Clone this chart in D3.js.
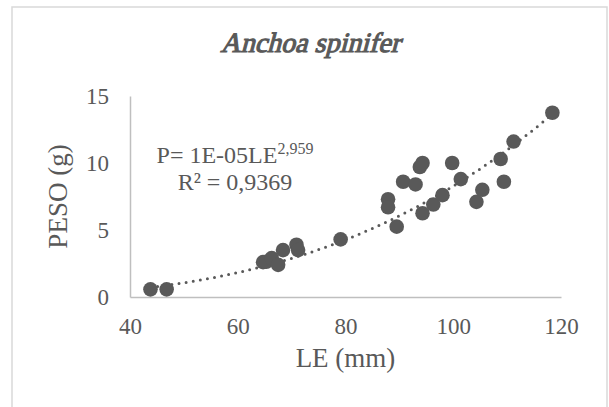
<!DOCTYPE html>
<html><head><meta charset="utf-8">
<script src="https://cdn.jsdelivr.net/npm/d3@7"></script>
<style>body{margin:0;background:#fff}svg{display:block}</style>
</head><body>
<script>
const title = "Anchoa spinifer";
const xTitle = "LE (mm)";
const yTitle = "PESO (g)";
const xTicks = [40, 60, 80, 100, 120];
const yTicks = [0, 5, 10, 15];
const LE = [43.8,46.8,64.7,65.3,66.3,67.5,68.4,70.9,71.2,79.1,87.9,87.9,89.5,90.7,93.0,93.8,94.3,94.3,96.3,98.0,99.8,101.4,104.3,105.4,108.8,109.4,111.2,118.4];
const PESO = [0.57,0.57,2.6,2.63,2.9,2.4,3.5,3.9,3.5,4.3,7.3,6.7,5.25,8.6,8.4,9.7,10.0,6.25,6.9,7.6,10.0,8.8,7.1,8.0,10.3,8.6,11.6,13.75];
const trendA = 1e-5, trendB = 2.959;

const W = 609, H = 407;
const col = "#595959";
const serif = "'Liberation Serif', 'Times New Roman', serif";
const svg = d3.select("body").append("svg").attr("width", W).attr("height", H);
svg.append("rect").attr("x", 12).attr("y", 7).attr("width", 595).attr("height", 410)
  .attr("fill", "#fff").attr("stroke", "#d9d9d9").attr("stroke-width", 1.5);

const x = d3.scaleLinear().domain([40, 120]).range([130, 561]);
const y = d3.scaleLinear().domain([0, 15]).range([297, 96]);

// axes
const xa = svg.append("g").attr("transform", `translate(0,${y(0)})`)
  .call(d3.axisBottom(x).tickValues(xTicks).tickSize(0).tickPadding(20));
const ya = svg.append("g").attr("transform", `translate(${x(40)},0)`)
  .call(d3.axisLeft(y).tickValues(yTicks).tickSize(0).tickPadding(21));
[xa, ya].forEach(g => {
  g.select(".domain").attr("stroke", "#bfbfbf").attr("stroke-width", 1.5);
  g.selectAll("text").attr("font-family", serif)
    .attr("font-size", 23).attr("fill", col);
});
xa.selectAll("text").attr("dy", null).attr("y", 37);

// trendline
const xs = d3.range(d3.min(LE), d3.max(LE) + 0.01, 0.5);
svg.append("path")
  .attr("d", d3.line().x(d => x(d)).y(d => y(trendA * Math.pow(d, trendB)))(xs))
  .attr("fill", "none").attr("stroke", col).attr("stroke-width", 3)
  .attr("stroke-linecap", "round").attr("stroke-dasharray", "0,7.2");

// points
svg.append("g").selectAll("circle").data(LE.map((v, i) => [v, PESO[i]])).join("circle")
  .attr("cx", d => x(d[0])).attr("cy", d => y(d[1])).attr("r", 7.3).attr("fill", col);

// title (serif, slanted)
svg.append("text").attr("transform", "translate(310,52) skewX(-15)").attr("text-anchor", "middle")
  .attr("font-family", serif)
  .attr("font-size", 28)
  .attr("stroke", col).attr("stroke-width", 1.1)
  .attr("fill", col).text(title);

// axis titles
svg.append("text").attr("x", (x(40) + x(120)) / 2).attr("y", 367).attr("text-anchor", "middle")
  .attr("font-family", serif)
  .attr("font-size", 27).attr("fill", col).text(xTitle);
svg.append("text").attr("transform", `translate(67,${(y(0) + y(15)) / 2}) rotate(-90)`)
  .attr("text-anchor", "middle")
  .attr("font-family", serif)
  .attr("font-size", 27).attr("fill", col).text(yTitle);

// equation
const eq = svg.append("text").attr("x", 235).attr("y", 163).attr("text-anchor", "middle")
  .attr("font-family", serif)
  .attr("font-size", 24).attr("fill", col);
eq.append("tspan").text("P= 1E-05LE");
eq.append("tspan").attr("font-size", 16).attr("dy", -9).text("2,959");
svg.append("text").attr("x", 235).attr("y", 190).attr("text-anchor", "middle")
  .attr("font-family", serif)
  .attr("font-size", 24).attr("fill", col).text("R² = 0,9369");
</script>
</body></html>
